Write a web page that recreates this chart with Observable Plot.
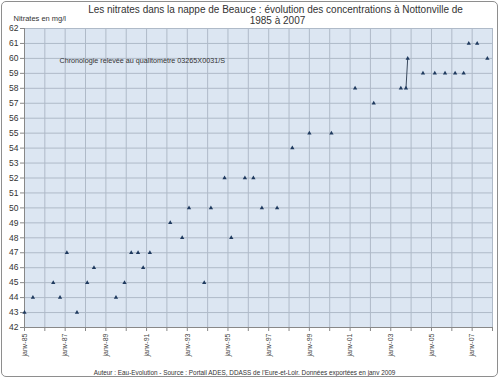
<!DOCTYPE html>
<html>
<head>
<meta charset="utf-8">
<script src="https://cdn.jsdelivr.net/npm/d3@7"></script>
<script src="https://cdn.jsdelivr.net/npm/@observablehq/plot@0.6"></script>
<style>
  html, body { margin: 0; padding: 0; background: #fff; }
  #wrap { position: relative; width: 499px; height: 378px; }
  #border { position: absolute; left: 1px; top: 1px; width: 495px; height: 374px; border: 1px solid #8e8e8e; border-radius: 5px; pointer-events: none; }
</style>
</head>
<body>
<div id="wrap"><div id="border"></div></div>
<script>
// Sampling dates (year-month) and nitrate concentrations (mg/l)
const dates = [
  "1985-01","1985-06","1986-06","1986-10","1987-02","1987-08","1988-02","1988-06",
  "1989-07","1989-12","1990-04","1990-08","1990-11","1991-03","1992-03","1992-10",
  "1993-02","1993-11","1994-03","1994-11","1995-03","1995-11","1996-04","1996-09",
  "1997-06","1998-03","1999-01","2000-02","2001-04","2002-03","2003-07","2003-10",
  "2003-11","2004-08","2005-03","2005-09","2006-03","2006-08","2006-11","2007-04",
  "2007-10"
];
const nitrates = [
  43,44,45,44,47,43,45,46,
  44,45,47,47,46,47,49,48,
  50,45,50,52,48,52,52,50,
  50,54,55,55,58,57,58,58,
  60,59,59,59,59,59,61,61,
  60
];
// consecutive samples joined by a line in the original
const joined = ["2003-10","2003-11"];

const titleLines = ["Les nitrates dans la nappe de Beauce : évolution des concentrations à Nottonville de", "1985 à 2007"];
const yTitle = "Nitrates en mg/l";
const note = "Chronologie relevée au qualitomètre 03265X0031/S";
const source = "Auteur : Eau-Evolution - Source : Portail ADES, DDASS de l'Eure-et-Loir. Données exportées en janv 2009";
const monthAbbr = "janv";

const parse = d3.utcParse("%Y-%m");
const data = dates.map((d, i) => ({date: parse(d), value: nitrates[i], key: d}));
const lineData = data.filter(d => joined.includes(d.key));

const years = d3.utcYear.range(new Date(Date.UTC(1985,0,1)), new Date(Date.UTC(2008,0,2)));
const yTicks = d3.range(42, 63);

const font = "Liberation Sans, Arial, sans-serif";
const grid = "#afbac8";
const navy = "#1f3a5f";

const chart = Plot.plot({
  width: 499,
  height: 378,
  marginLeft: 24,
  marginRight: 7,
  marginTop: 28,
  marginBottom: 51,
  style: {fontFamily: font, fontSize: "8px", color: "#444", background: "transparent", overflow: "visible"},
  x: {type: "utc", domain: [new Date(Date.UTC(1985,0,1)), new Date(Date.UTC(2008,0,1))]},
  y: {domain: [42, 62]},
  marks: [
    Plot.frame({fill: "#dce6f2", stroke: null}),
    Plot.gridX(years, {stroke: grid, strokeOpacity: 1}),
    Plot.gridY(yTicks, {stroke: grid, strokeOpacity: 1}),
    Plot.axisY({ticks: yTicks, tickSize: 4, tickPadding: 2, label: null, stroke: "#888", fill: "#333", fontSize: 8.5}),
    Plot.axisX({ticks: years, tickSize: 4, tickPadding: 2, tickRotate: -90, label: null, stroke: "#888", fill: "#444", fontSize: 7,
      tickFormat: d => (d.getUTCFullYear() % 2 === 1) ? monthAbbr + "-" + String(d.getUTCFullYear()).slice(2) : ""}),
    Plot.ruleX([new Date(Date.UTC(1985,0,1))], {stroke: "#888"}),
    Plot.ruleY([42], {stroke: "#888"}),
    Plot.line(lineData, {x: "date", y: "value", stroke: "#3b4a5e", strokeWidth: 1}),
    Plot.dot(data, {x: "date", y: "value", symbol: "triangle", r: 1.6, fill: navy, stroke: null}),
    Plot.text([titleLines[0]], {frameAnchor: "top", dx: 17, dy: -19, fontSize: 10, fill: "#333", lineAnchor: "middle"}),
    Plot.text([titleLines[1]], {frameAnchor: "top", dx: 19, dy: -8, fontSize: 10, fill: "#333", lineAnchor: "middle"}),
    Plot.text([yTitle], {frameAnchor: "top-left", dx: -11, dy: -10, fontSize: 7.5, fill: "#333", textAnchor: "start", lineAnchor: "middle"}),
    Plot.text([note], {frameAnchor: "top-left", dx: 35, dy: 32, fontSize: 7.2, fill: "#333", textAnchor: "start", lineAnchor: "middle"}),
    Plot.text([source], {frameAnchor: "bottom", dx: -14, dy: 45, fontSize: 6.4, fill: "#333", lineAnchor: "middle"})
  ]
});
document.getElementById("wrap").prepend(chart);
</script>
</body>
</html>
